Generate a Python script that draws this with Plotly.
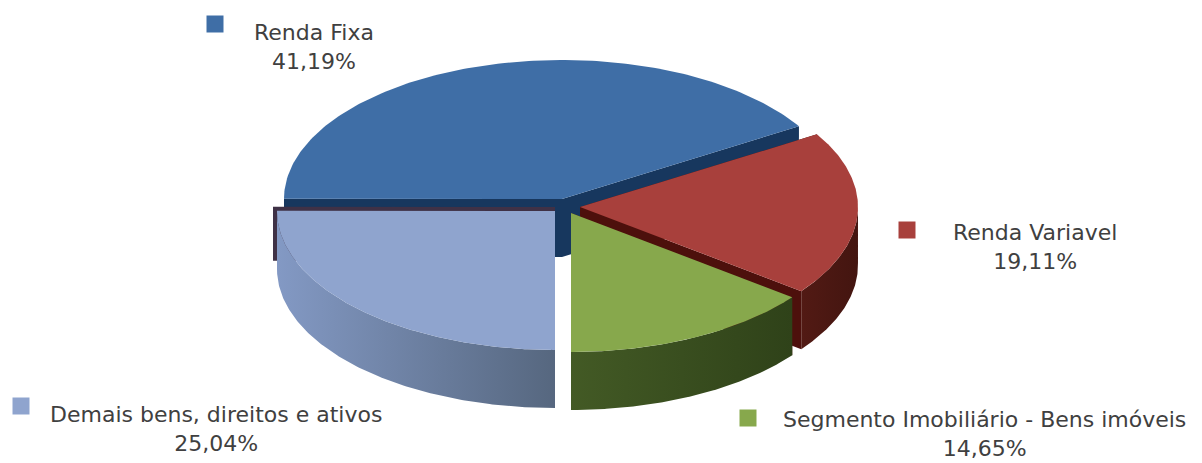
import numpy as np
import plotly.graph_objects as go

# ---- data -----------------------------------------------------------------
categories = ["Segmento Imobiliário - Bens imóveis", "Renda Variavel", "Renda Fixa", "Demais bens, direitos e ativos"]
percentages = [14.65, 19.11, 41.19, 25.04]
value_labels = ["14,65%", "19,11%", "41,19%", "25,04%"]

# ---- styling / layout ------------------------------------------------------
top_colors = ["#87a84c", "#a8403c", "#3f6ea6", "#8fa4ce"]
wall_colors = ["#4d100c", "#4d100c", "#17375e", "#3f3146"]
side_gradients = [["#435a25", "#2f4219"], ["#521a14", "#431510"], ["#17375e", "#17375e"], ["#8399c4", "#56677f"]]
centers = [(571, 213), (580, 207), (562, 199), (555, 211)]
RX, RY, DEPTH = 278, 139, 58
draw_order = [2, 3, 1, 0]
key_pos = [(748, 418), (907, 230), (215, 24), (21, 406)]
label_pos = [(984, 434), (1035, 247), (314, 47), (216, 429)]

fig = go.Figure()
fractions = np.array(percentages) / sum(percentages)
ends = np.cumsum(fractions) * 2 * np.pi
starts = ends - fractions * 2 * np.pi


def arc(i):
    t = np.linspace(starts[i], ends[i], 160)
    cx, cy = centers[i]
    return cx + RX * np.sin(t), cy + RY * np.cos(t)


def poly(xs, ys, name, color=None, gradient=None):
    kw = dict(fillgradient=dict(type="horizontal", colorscale=[[0, gradient[0]], [1, gradient[1]]])) if gradient else dict(fillcolor=color)
    fig.add_trace(go.Scatter(x=list(xs), y=list(ys), mode="lines", fill="toself", line=dict(width=0),
                             name=name, hoverinfo="skip", showlegend=False, **kw))


for i in draw_order:
    cx, cy = centers[i]
    ax, ay = arc(i)
    # flat cut walls
    shift = 4 if i == 3 else 0
    for ex, ey in ((ax[0], ay[0]), (ax[-1], ay[-1])):
        poly([cx - shift if ex > cx else cx, ex - shift, ex - shift, cx, ],
             [cy - shift, ey - shift, ey + DEPTH - 2 * shift, cy + DEPTH - 2 * shift],
             categories[i] + " wall", color=wall_colors[i])
    # outer rim (only the front half of the ellipse faces the viewer)
    front = np.cos(np.linspace(starts[i], ends[i], 160)) >= -0.02
    if front.any():
        fx, fy = ax[front], ay[front]
        poly(np.r_[fx, fx[::-1]], np.r_[fy, fy[::-1] + DEPTH], categories[i] + " rim", gradient=side_gradients[i])
    # top face
    poly(np.r_[cx, ax, cx], np.r_[cy, ay, cy], categories[i], color=top_colors[i])

for i in range(4):
    kx, ky = key_pos[i]
    fig.add_trace(go.Scatter(x=[kx], y=[ky], mode="markers", hoverinfo="skip", showlegend=False,
                             marker=dict(symbol="square", size=17, color=top_colors[i], line=dict(width=0))))
    lx, ly = label_pos[i]
    fig.add_annotation(x=lx, y=ly, text=categories[i] + "<br>" + value_labels[i], showarrow=False,
                       xanchor="center", yanchor="middle", align="center",
                       font=dict(family="DejaVu Sans", size=22, color="#404040"))

fig.update_layout(width=1202, height=463, margin=dict(l=0, r=0, t=0, b=0), paper_bgcolor="white",
                  plot_bgcolor="white", showlegend=False,
                  xaxis=dict(range=[0, 1202], visible=False, fixedrange=True),
                  yaxis=dict(range=[463, 0], visible=False, fixedrange=True))
fig.write_html("out.html", config=dict(displayModeBar=False),
               post_script="document.body.style.margin='0';document.documentElement.style.overflow='hidden';")
